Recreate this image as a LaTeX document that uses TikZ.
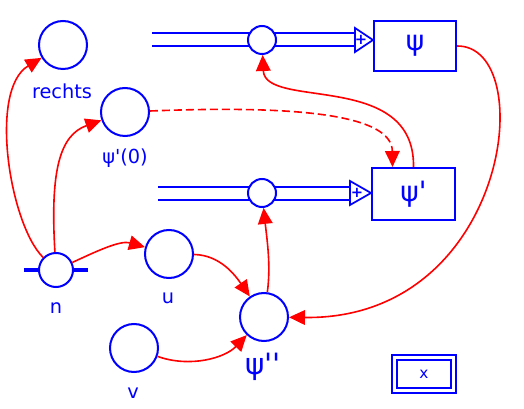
\documentclass[tikz,border=0pt]{standalone}
\usepackage{fontspec}
\newfontfamily\dv{DejaVu Sans}
\usetikzlibrary{arrows.meta,calc}
\begin{document}
\begin{tikzpicture}[x=0.75pt,y=-0.75pt,
  cir/.style={circle,draw=blue,line width=1.5pt,fill=white,minimum size=36pt,inner sep=0pt},
  smallcir/.style={cir,minimum size=21pt},
  blk/.style={draw=blue,line width=1.5pt,fill=white,inner sep=0pt,text=blue,font=\dv\fontsize{21}{23}\selectfont},
  lab/.style={text=blue,inner sep=0pt,font=\dv\fontsize{14.5}{16}\selectfont},
  bus/.style={draw=blue,line width=1.5pt},
  link/.style={draw=red,line width=1.2pt,-{Triangle[length=12pt,width=11pt]}},
  tri/.style={draw=blue,line width=1.3pt,fill=white}]
\useasboundingbox (0,0) rectangle (524,409);

% ---- row 1
\draw[bus] (152,33.5) -- (355,33.5);
\draw[bus] (152,46.5) -- (355,46.5);
\node[smallcir] (c1) at (262,40) {};
\draw[tri] (355,28) -- (355,52) -- (373,40) -- cycle;
\node[text=blue,inner sep=0pt,font=\dv\bfseries\fontsize{11}{11}\selectfont] (plus1) at (361,40) {+};
\node[blk,minimum width=61.5pt,minimum height=37.5pt] (psi) at (415,46) {ψ};

% ---- row 2
\draw[bus] (158,187) -- (350,187);
\draw[bus] (158,200) -- (350,200);
\node[smallcir] (c2) at (262,193) {};
\draw[tri] (350,181) -- (350,205) -- (371,193) -- cycle;
\node[text=blue,inner sep=0pt,font=\dv\bfseries\fontsize{11}{11}\selectfont] (plus2) at (357,193) {+};
\node[blk,minimum width=62pt,minimum height=39pt] (psip) at (413.5,194) {ψ\char"27};

% ---- circles
\node[cir] (rechts) at (63,45) {};
\node[lab] (lrechts) at (62,91) {rechts};
\node[cir] (psi0) at (125,112) {};
\node[lab] (lpsi0) at (125,158) {ψ\char"27(0)};
\draw[blue,line width=3pt] (24,270) -- (88,270);
\node[cir,minimum size=25.5pt] (n) at (56,270) {};
\node[lab] (ln) at (56,308) {n};
\node[cir] (u) at (169,254) {};
\node[lab] (lu) at (168,298) {u};
\node[cir] (v) at (134,348) {};
\node[lab] (lv) at (133,393) {v};
\node[cir] (psipp) at (264,317) {};
\node[lab,font=\dv\fontsize{22}{24}\selectfont] (lpsipp) at (263,367) {ψ\char"27\char"27};

% ---- x box
\node[draw=blue,line width=1.5pt,minimum width=48pt,minimum height=28.5pt,inner sep=0pt] (xbox) at (424,374) {};
\node[draw=blue,line width=1.5pt,minimum width=41pt,minimum height=21.5pt,inner sep=0pt,text=blue,font=\dv\fontsize{11.5}{13}\selectfont] (xin) at (424,374) {x};

% ---- connectors
\draw[link] (n) .. controls (10,225) and (-12,90) .. (rechts);
\draw[link] (n) .. controls (50,170) and (60,135) .. (psi0);
\draw[link] (n) .. controls (95,252) and (120,240) .. (u);
\draw[link] (u) .. controls (220,255) and (235,275) .. (psipp);
\draw[link] (v) .. controls (190,368) and (225,358) .. (psipp);
\draw[link] (psipp) .. controls (271,265) and (267,240) .. (c2);
\draw[link] (psi.east) .. controls (540,45) and (510,320) .. (psipp);
\draw[link] (psip.north) .. controls (415,70) and (265,110) .. (c1);
\coordinate (dtip) at ($(psip.north)+(-21,0)$);
\draw[link,dash pattern=on 6pt off 3pt] (psi0) .. controls (300,105) and (392,115) .. (dtip);
\end{tikzpicture}
\end{document}
